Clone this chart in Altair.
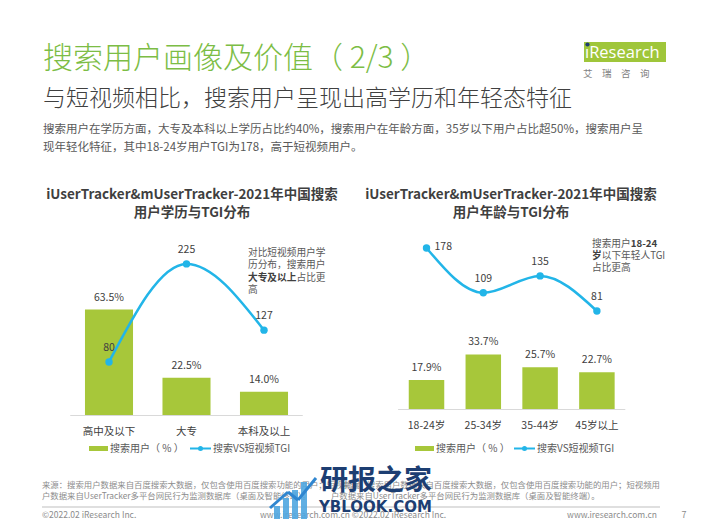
import altair as alt
import pandas as pd

# ---------------- data ----------------
edu_cats = ["高中及以下", "大专", "本科及以上"]
edu_share = [63.5, 22.5, 14.0]
edu_tgi = [80, 225, 127]

age_cats = ["18-24岁", "25-34岁", "35-44岁", "45岁以上"]
age_share = [17.9, 33.7, 25.7, 22.7]
age_tgi = [178, 109, 135, 81]

title_text = "搜索用户画像及价值（ 2/3 ）"
subtitle_text = "与短视频相比，搜索用户呈现出高学历和年轻态特征"
para_lines = [
    "搜索用户在学历方面，大专及本科以上学历占比约40%，搜索用户在年龄方面，35岁以下用户占比超50%，搜索用户呈",
    "现年轻化特征，其中18-24岁用户TGI为178，高于短视频用户。",
]
chart_titles = [
    ["iUserTracker&mUserTracker-2021年中国搜索", "用户学历与TGI分布"],
    ["iUserTracker&mUserTracker-2021年中国搜索", "用户年龄与TGI分布"],
]
legend_bar = "搜索用户（ % ）"
legend_line = "搜索VS短视频TGI"
src1 = "来源：搜索用户数据来自百度搜索大数据，仅包含使用百度搜索功能的用户；短视频用"
src2 = "户数据来自UserTracker多平台网民行为监测数据库（桌面及智能终端）。"

FONT = "Noto Sans CJK SC"
BAR = "#a7c73a"
CYAN = "#22b5e8"
TGREEN = "#7cbd45"
DARK = "#404040"
GRAY = "#595959"
LIGHT = "#8c8c8c"

one = pd.DataFrame({"k": [0]})


def txt(s, x, y, size=10, color=GRAY, weight="normal", align="left",
        baseline="middle", font=FONT, opacity=1.0):
    return alt.Chart(one).mark_text(
        text=s, fontSize=size, color=color, fontWeight=weight, align=align,
        baseline=baseline, font=font, opacity=opacity
    ).encode(x=alt.value(x), y=alt.value(y))


def rect(x1, x2, y1, y2, color, opacity=1.0):
    return alt.Chart(one).mark_rect(color=color, opacity=opacity).encode(
        x=alt.value(x1), x2=alt.value(x2), y=alt.value(y1), y2=alt.value(y2))


def rule(x1, x2, y1, y2, color, width=1.0):
    return alt.Chart(one).mark_rule(color=color, strokeWidth=width).encode(
        x=alt.value(x1), x2=alt.value(x2), y=alt.value(y1), y2=alt.value(y2))


def dot(x, y, color, size=40):
    return alt.Chart(one).mark_circle(color=color, size=size, opacity=1).encode(
        x=alt.value(x), y=alt.value(y))


def panel(cats, share, tgi, xr, pi, ybar_r, yline_r, base_y, label_y,
          right_first=False):
    df = pd.DataFrame({
        "cat": cats, "share": share, "tgi": tgi,
        "slab": [f"{v:.1f}%" for v in share],
        "tlab": [str(v) for v in tgi],
        "idx": list(range(len(cats))),
    })
    xs = alt.Scale(domain=cats, range=xr, paddingInner=pi, paddingOuter=pi / 2)
    X = alt.X("cat:N", scale=xs, axis=None, sort=None)
    yb = alt.Y("share:Q", scale=alt.Scale(domain=[0, 100], range=ybar_r, nice=False, zero=True), axis=None)
    yl = alt.Y("tgi:Q", scale=alt.Scale(domain=[0, 300], range=yline_r, nice=False, zero=True), axis=None)
    base = alt.Chart(df)
    layers = [
        rule(xr[0], xr[1], base_y, base_y, "#d9d9d9", 1),
        base.mark_bar(color=BAR).encode(x=X, y=yb),
        base.mark_text(font=FONT, fontSize=10.5, color=DARK, dy=-12, baseline="middle").encode(
            x=X, y=yb, text="slab:N"),
        base.mark_text(font=FONT, fontSize=10.5, color=DARK, baseline="middle").encode(
            x=X, y=alt.value(label_y), text="cat:N"),
        base.mark_line(interpolate="monotone", color=CYAN, strokeWidth=2.5).encode(x=X, y=yl),
        base.mark_circle(color=CYAN, size=55, opacity=1).encode(x=X, y=yl),
    ]
    if right_first:
        layers.append(base.transform_filter("datum.idx == 0").mark_text(
            font=FONT, fontSize=10.5, color=DARK, dx=8, dy=-1, align="left", baseline="middle"
        ).encode(x=X, y=yl, text="tlab:N"))
        layers.append(base.transform_filter("datum.idx > 0").mark_text(
            font=FONT, fontSize=10.5, color=DARK, dy=-14, baseline="middle"
        ).encode(x=X, y=yl, text="tlab:N"))
    else:
        layers.append(base.mark_text(
            font=FONT, fontSize=10.5, color=DARK, dy=-14, baseline="middle"
        ).encode(x=X, y=yl, text="tlab:N"))
    return layers


layers = []

# header
layers.append(txt(title_text, 35, 51, size=30, color=TGREEN, weight=300))
layers.append(txt(subtitle_text, 35, 90.5, size=23, color=DARK, weight=300))
layers.append(txt(para_lines[0], 35, 122, size=11.5, color=GRAY))
layers.append(txt(para_lines[1], 35, 139.5, size=11.5, color=GRAY))

# logo
layers.append(rect(576, 658, 34, 54, "#9fc63a"))
layers.append(txt("ıResearch", 577, 44.5, size=16.5, color="white", font="Open Sans"))
layers.append(dot(579.5, 36.5, "#1f3c73", size=18))
layers.append(txt("艾　瑞　咨　询", 575, 65.5, size=9.5, color="#7f7f7f"))

# chart titles
for cx, lines in zip([184, 503], chart_titles):
    layers.append(txt(lines[0], cx, 187, size=13.5, color="#3f3f3f", weight="bold", align="center"))
    layers.append(txt(lines[1], cx, 204.5, size=13.5, color="#3f3f3f", weight="bold", align="center"))

# panels
layers += panel(edu_cats, edu_share, edu_tgi, [62.25, 294.75], 0.38,
                [407, 241], [408, 205.2], 407.5, 424)
layers += panel(age_cats, age_share, age_tgi, [390.1, 617.3], 0.375,
                [401, 239], [355.65, 160.65], 401.5, 418, right_first=True)

# annotations
A = 9.7
layers.append(txt("对比短视频用户学", 240, 244.5, size=A))
layers.append(txt("历分布，搜索用户", 240, 257, size=A))
layers.append(txt("大专及以上", 240, 269.5, size=A, weight="bold", color=DARK))
layers.append(txt("占比更", 240 + 5 * A, 269.5, size=A))
layers.append(txt("高", 240, 282, size=A))

layers.append(txt("搜索用户", 584, 235.5, size=A))
layers.append(txt("18-24", 584 + 4 * A, 235.5, size=A, weight="bold", color=DARK))
layers.append(txt("岁", 584, 247.7, size=A, weight="bold", color=DARK))
layers.append(txt("以下年轻人TGI", 584 + A, 247.7, size=A))
layers.append(txt("占比更高", 584, 259.9, size=A))

# legends
for rx, lx in [(81, 182), (407, 506)]:
    layers.append(rect(rx, rx + 19, 438, 443, BAR))
    layers.append(txt(legend_bar, rx + 21, 440.5, size=10, color=GRAY))
    layers.append(rule(lx, lx + 21, 440.5, 440.5, CYAN, 2))
    layers.append(dot(lx + 10.5, 440.5, CYAN, size=25))
    layers.append(txt(legend_line, lx + 23, 440.5, size=10, color=GRAY))

# footer
layers.append(txt(src1, 34, 477, size=8.4, color=LIGHT))
layers.append(txt(src1, 652, 477, size=8.4, color=LIGHT, align="right"))
layers.append(txt(src2, 34, 487.5, size=8.4, color=LIGHT))
layers.append(txt(src2, 323, 487.5, size=8.4, color=LIGHT))
layers.append(rule(34, 652, 499, 499, "#bfbfbf", 1))
layers.append(txt("©2022.02 iResearch Inc.", 34, 506.5, size=8.5, color=LIGHT))
layers.append(txt("www.iresearch.com.cn   ©2022.02 iResearch Inc.", 252, 506.5, size=8.5, color=LIGHT))
layers.append(txt("www.iresearch.com.cn", 649, 506.5, size=8.5, color=LIGHT, align="right"))
layers.append(txt("7", 676, 506.5, size=9, color=LIGHT, align="center"))

# watermark
WM = "#1d3e72"
for bx, top in [(266, 498), (275, 490), (284, 482), (293, 474)]:
    layers.append(rect(bx, bx + 6, top, 511, "#4fa6e0", opacity=0.9))
layers.append(rule(262, 280, 500, 484, "#2f86d0", 3))
layers.append(rule(280, 290, 484, 492, "#2f86d0", 3))
layers.append(rule(290, 308, 492, 470, "#2f86d0", 3))
layers.append(txt("研报之家", 312, 474, size=28, color=WM, weight="bold"))
layers.append(txt("YBLOOK.COM", 311, 499, size=15, color=WM, weight="bold", font="DejaVu Sans"))

chart = alt.layer(*layers).resolve_scale(
    x="independent", y="independent"
).properties(
    width=686, height=511, padding=0,
    autosize=alt.AutoSizeParams(type="none"),
    background="white",
).configure_view(stroke=None)

chart.save("out.html", embed_options={"renderer": "svg", "actions": False})
